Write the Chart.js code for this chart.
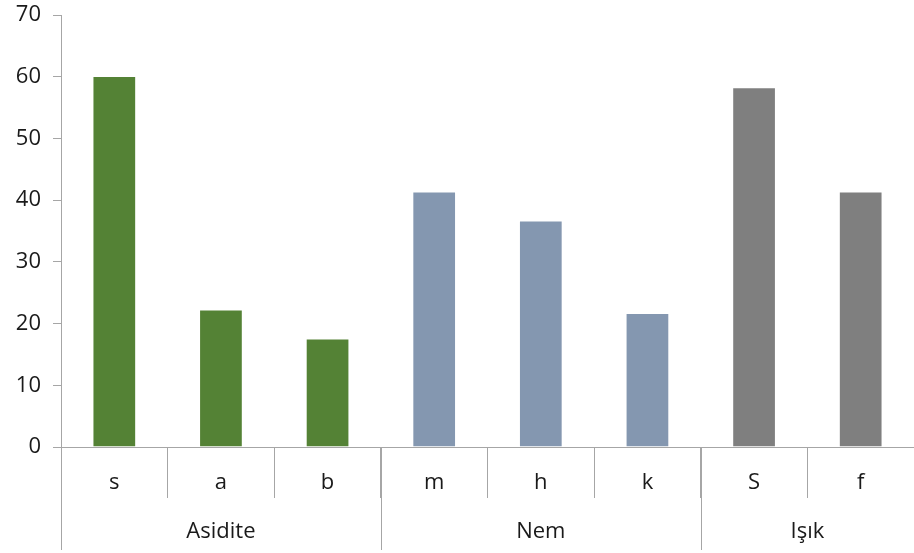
<!DOCTYPE html>
<html>
<head>
<meta charset="utf-8">
<script src="https://cdn.jsdelivr.net/npm/chart.js@4/dist/chart.umd.min.js"></script>
<style>
  html, body { margin: 0; padding: 0; background: #fff; }
  #wrap { width: 914px; height: 553px; position: relative; }
</style>
</head>
<body>
<div id="wrap"><canvas id="c" width="914" height="553"></canvas></div>
<script>
const categories = ['s', 'a', 'b', 'm', 'h', 'k', 'S', 'f'];
const values = [60.1, 22.3, 17.6, 41.4, 36.7, 21.7, 58.3, 41.4];
const groups = ['Asidite', 'Nem', 'Işık'];
const groupSizes = [3, 3, 2];
const yMin = 0, yMax = 70, yStep = 10;

const groupColors = ['#548235', '#8497B0', '#7F7F7F'];
const barColors = [];
groupSizes.forEach((n, gi) => { for (let i = 0; i < n; i++) barColors.push(groupColors[gi]); });

const FONT = "'Open Sans', 'Liberation Sans', sans-serif";
const AXIS_COLOR = '#A6A6A6';
const TEXT_COLOR = '#1a1a1a';

const groupPlugin = {
  id: 'groupAxis',
  afterDraw(chart) {
    const ctx = chart.ctx;
    const x = chart.scales.x;
    const top = chart.chartArea.bottom;
    const half = (x.getPixelForValue(1) - x.getPixelForValue(0)) / 2;
    ctx.save();
    ctx.strokeStyle = AXIS_COLOR;
    ctx.lineWidth = 1;
    let start = 0;
    ctx.font = '22px ' + FONT;
    ctx.fillStyle = TEXT_COLOR;
    ctx.textAlign = 'center';
    ctx.textBaseline = 'middle';
    groupSizes.forEach((n, gi) => {
      const left = x.getPixelForValue(start) - half;
      const right = x.getPixelForValue(start + n - 1) + half;
      const px = Math.round(left) + 0.5;
      ctx.beginPath();
      ctx.moveTo(px, top);
      ctx.lineTo(px, 550);
      ctx.stroke();
      ctx.fillText(groups[gi], (left + right) / 2, 532);
      start += n;
    });
    ctx.restore();
  }
};

new Chart(document.getElementById('c'), {
  type: 'bar',
  data: {
    labels: categories,
    datasets: [{
      data: values,
      backgroundColor: barColors,
      borderColor: 'rgba(255,255,255,0.5)',
      borderWidth: 1,
      barPercentage: 0.41,
      categoryPercentage: 1.0
    }]
  },
  options: {
    responsive: false,
    animation: false,
    events: [],
    layout: { padding: { top: 15, right: 0, bottom: 0, left: 0 } },
    plugins: { legend: { display: false }, tooltip: { enabled: false } },
    scales: {
      x: {
        grid: {
          offset: true,
          drawOnChartArea: false,
          drawTicks: true,
          tickLength: 51,
          color: AXIS_COLOR
        },
        border: { color: AXIS_COLOR },
        ticks: {
          font: { family: FONT, size: 22 },
          color: TEXT_COLOR,
          padding: -28,
          maxRotation: 0
        },
        afterFit(scale) { scale.height = 106; scale.paddingLeft = 0; scale.paddingRight = 0; }
      },
      y: {
        min: yMin,
        max: yMax,
        ticks: {
          stepSize: yStep,
          font: { family: FONT, size: 22 },
          color: TEXT_COLOR,
          padding: 12
        },
        grid: {
          drawOnChartArea: false,
          drawTicks: true,
          tickLength: 8,
          color: AXIS_COLOR
        },
        border: { color: AXIS_COLOR },
        afterFit(scale) { scale.width = 61; scale.paddingTop = 0; scale.paddingBottom = 0; }
      }
    }
  },
  plugins: [groupPlugin]
});
</script>
</body>
</html>
